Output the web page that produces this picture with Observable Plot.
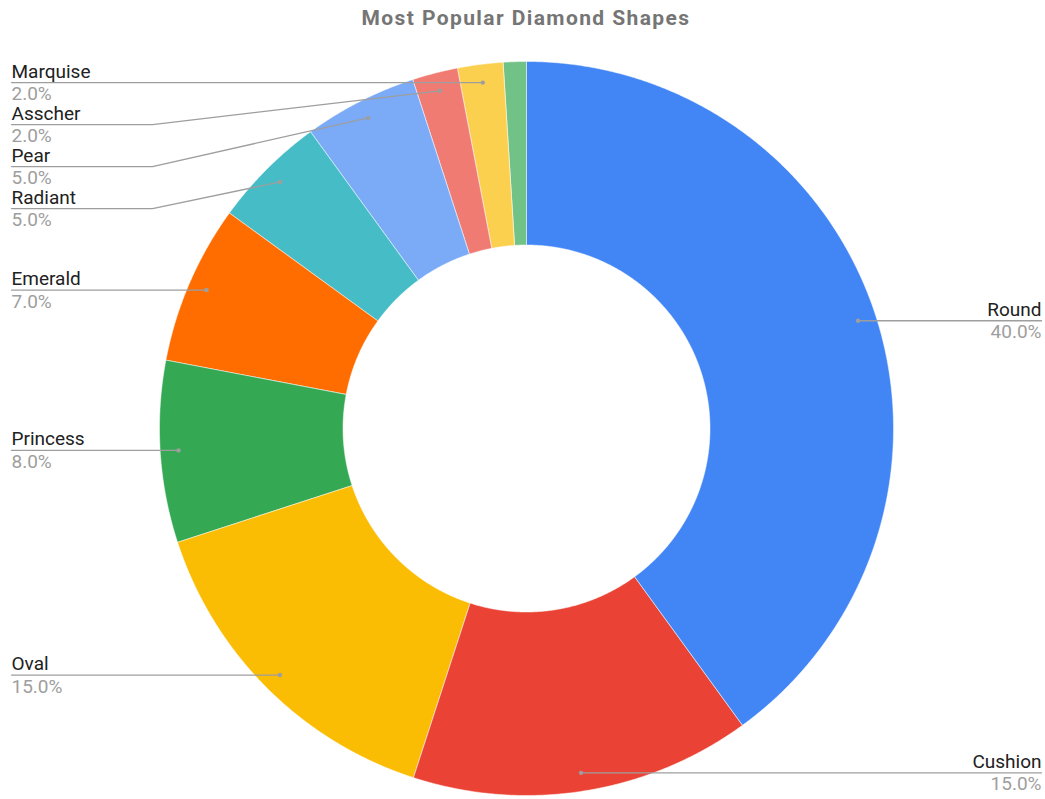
<!DOCTYPE html>
<html><head><meta charset="utf-8">
<script src="https://cdn.jsdelivr.net/npm/d3@7"></script>
<script src="https://cdn.jsdelivr.net/npm/@observablehq/plot@0.6"></script>
<style>
body{margin:0;background:#fff;font-family:Roboto,sans-serif}
#title{height:36px;line-height:36px;font-size:21px;font-weight:bold;color:#757575;text-align:center;padding-left:7px;width:1038px;white-space:nowrap;letter-spacing:1.4px}
#chart svg{display:block}
</style></head><body>
<div id="title">Most Popular Diamond Shapes</div>
<div id="chart"></div>
<script>
// ---- data ----
const shapes = ["Round","Cushion","Oval","Princess","Emerald","Radiant","Pear","Asscher","Marquise","Other"];
const shares = [40, 15, 15, 8, 7, 5, 5, 2, 2, 1];
const colors = ["#4285F4","#EA4335","#FBBC04","#34A853","#FF6D01","#46BDC6","#7BAAF7","#F07B72","#FCD04F","#71C287"];
const labeled = [true, true, true, true, true, true, true, true, true, false];

// ---- layout ----
const W = 1045, H = 763;
const cx = 526, cy = 392, R = 367;
const inner = 0.5, dotR = 0.95;
const gapPx = 42, elbowPx = 152, leftPx = 11, rightPx = 1041;
const toUX = px => (px - cx) / R;
const toUY = py => (cy - py) / R;
const toPY = uy => cy - uy * R;

const total = d3.sum(shares);
const slices = [];
let acc = 0;
shapes.forEach((name, i) => {
  const a0 = acc / total * 2 * Math.PI;
  acc += shares[i];
  const a1 = acc / total * 2 * Math.PI;
  slices.push({name, value: shares[i], color: colors[i], a0, a1, labeled: labeled[i]});
});

// slice polygons
const slicePts = [];
for (const s of slices) {
  const n = Math.max(2, Math.ceil((s.a1 - s.a0) / 0.005));
  for (let k = 0; k <= n; k++) {
    const a = s.a0 + (s.a1 - s.a0) * k / n;
    slicePts.push({name: s.name, color: s.color, x: Math.sin(a), y: Math.cos(a)});
  }
  for (let k = n; k >= 0; k--) {
    const a = s.a0 + (s.a1 - s.a0) * k / n;
    slicePts.push({name: s.name, color: s.color, x: inner * Math.sin(a), y: inner * Math.cos(a)});
  }
}

// labels
const labels = slices.filter(s => s.labeled).map(s => {
  const am = (s.a0 + s.a1) / 2;
  const dx = dotR * Math.sin(am), dy = dotR * Math.cos(am);
  return {name: s.name, pct: s.value.toFixed(1) + "%", dx, dy, side: am > Math.PI ? "left" : "right", py: toPY(dy)};
});
for (const side of ["left", "right"]) {
  const group = labels.filter(l => l.side === side).sort((a, b) => a.py - b.py);
  let prev = -Infinity;
  for (const l of group) { l.ly = Math.max(l.py, prev + gapPx); prev = l.ly; }
}
const leaderPts = [];
for (const l of labels) {
  leaderPts.push({name: l.name, x: l.dx, y: l.dy});
  if (l.side === "left") {
    leaderPts.push({name: l.name, x: toUX(elbowPx), y: toUY(l.ly)});
    leaderPts.push({name: l.name, x: toUX(leftPx), y: toUY(l.ly)});
  } else {
    leaderPts.push({name: l.name, x: toUX(rightPx), y: toUY(l.ly)});
  }
}
const textRows = labels.map(l => ({...l, tx: toUX(l.side === "left" ? leftPx : rightPx), ty: toUY(l.ly)}));
const leftRows = textRows.filter(d => d.side === "left");
const rightRows = textRows.filter(d => d.side === "right");

const nameStyle = {fontSize: 19, fontFamily: "Roboto", fill: "#212121", lineAnchor: "bottom", dy: -5};
const pctStyle = {fontSize: 19, fontFamily: "Roboto", fill: "#9e9e9e", lineAnchor: "top", dy: 4};

const chart = Plot.plot({
  width: W, height: H, margin: 0,
  x: {domain: [toUX(0), toUX(W)], range: [0, W], axis: null},
  y: {domain: [toUY(H), toUY(0)], range: [H, 0], axis: null},
  style: {fontFamily: "Roboto", background: "#fff"},
  marks: [
    Plot.line(slicePts, {x: "x", y: "y", z: "name", fill: "color", stroke: "#fff", strokeWidth: 0.5, curve: "linear-closed"}),
    Plot.line(leaderPts, {x: "x", y: "y", z: "name", stroke: "#9e9e9e", strokeWidth: 1.3}),
    Plot.dot(labels, {x: "dx", y: "dy", r: 2.2, fill: "#9e9e9e", stroke: null}),
    Plot.text(leftRows, {x: "tx", y: "ty", text: "name", textAnchor: "start", ...nameStyle}),
    Plot.text(leftRows, {x: "tx", y: "ty", text: "pct", textAnchor: "start", ...pctStyle}),
    Plot.text(rightRows, {x: "tx", y: "ty", text: "name", textAnchor: "end", ...nameStyle}),
    Plot.text(rightRows, {x: "tx", y: "ty", text: "pct", textAnchor: "end", ...pctStyle})
  ]
});
document.getElementById("chart").appendChild(chart);
</script>
</body></html>
